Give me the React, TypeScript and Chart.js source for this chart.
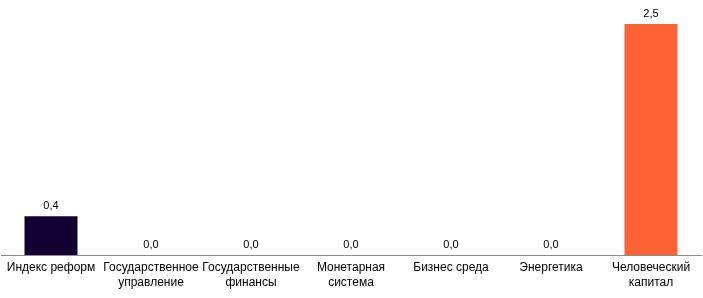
import React, { useEffect, useRef } from "react";
import { Chart, registerables } from "chart.js";

Chart.register(...registerables);

const categories: string[][] = [
  ["Индекс реформ"],
  ["Государственное", "управление"],
  ["Государственные", "финансы"],
  ["Монетарная", "система"],
  ["Бизнес среда"],
  ["Энергетика"],
  ["Человеческий", "капитал"],
];
const values: number[] = [0.42, 0, 0, 0, 0, 0, 2.5];
const barColors: string[] = ["#120033", "#120033", "#120033", "#120033", "#120033", "#120033", "#FF6235"];

const valueLabels = {
  id: "valueLabels",
  afterDatasetsDraw(chart: any) {
    const ctx = chart.ctx;
    const meta = chart.getDatasetMeta(0);
    ctx.save();
    ctx.font = "11px 'Liberation Sans', Arial, sans-serif";
    ctx.fillStyle = "#000";
    ctx.textAlign = "center";
    ctx.textBaseline = "bottom";
    meta.data.forEach((bar: any, i: number) => {
      const v = values[i];
      ctx.fillText(v.toFixed(1).replace(".", ","), bar.x, bar.y - 5);
    });
    ctx.restore();
  },
};

export default function App() {
  const ref = useRef<HTMLCanvasElement>(null);
  useEffect(() => {
    if (!ref.current) return;
    const chart = new Chart(ref.current, {
      type: "bar",
      data: {
        labels: categories,
        datasets: [
          {
            data: values,
            backgroundColor: barColors,
            categoryPercentage: 1,
            barPercentage: 0.53,
          },
        ],
      },
      options: {
        responsive: false,
        animation: false,
        layout: { padding: { top: 24, left: 1, right: 2, bottom: 0 } },
        plugins: { legend: { display: false }, tooltip: { enabled: false } },
        scales: {
          y: { display: false, min: 0, max: 2.5 },
          x: {
            grid: { display: false, drawTicks: false, tickLength: 0 },
            border: { display: true, color: "#8c8c8c", width: 1 },
            ticks: {
              color: "#000",
              font: { family: "'Liberation Sans', Arial, sans-serif", size: 12, lineHeight: "15px" },
              padding: 5,
              maxRotation: 0,
              autoSkip: false,
            },
            afterFit: (scale: any) => {
              scale.height = 43;
            },
          },
        },
      },
      plugins: [valueLabels],
    });
    return () => chart.destroy();
  }, []);
  return (
    <div style={{ position: "absolute", left: 0, top: 0, width: 703, height: 298, background: "#fff" }}>
      <canvas ref={ref} width={703} height={298} />
    </div>
  );
}
